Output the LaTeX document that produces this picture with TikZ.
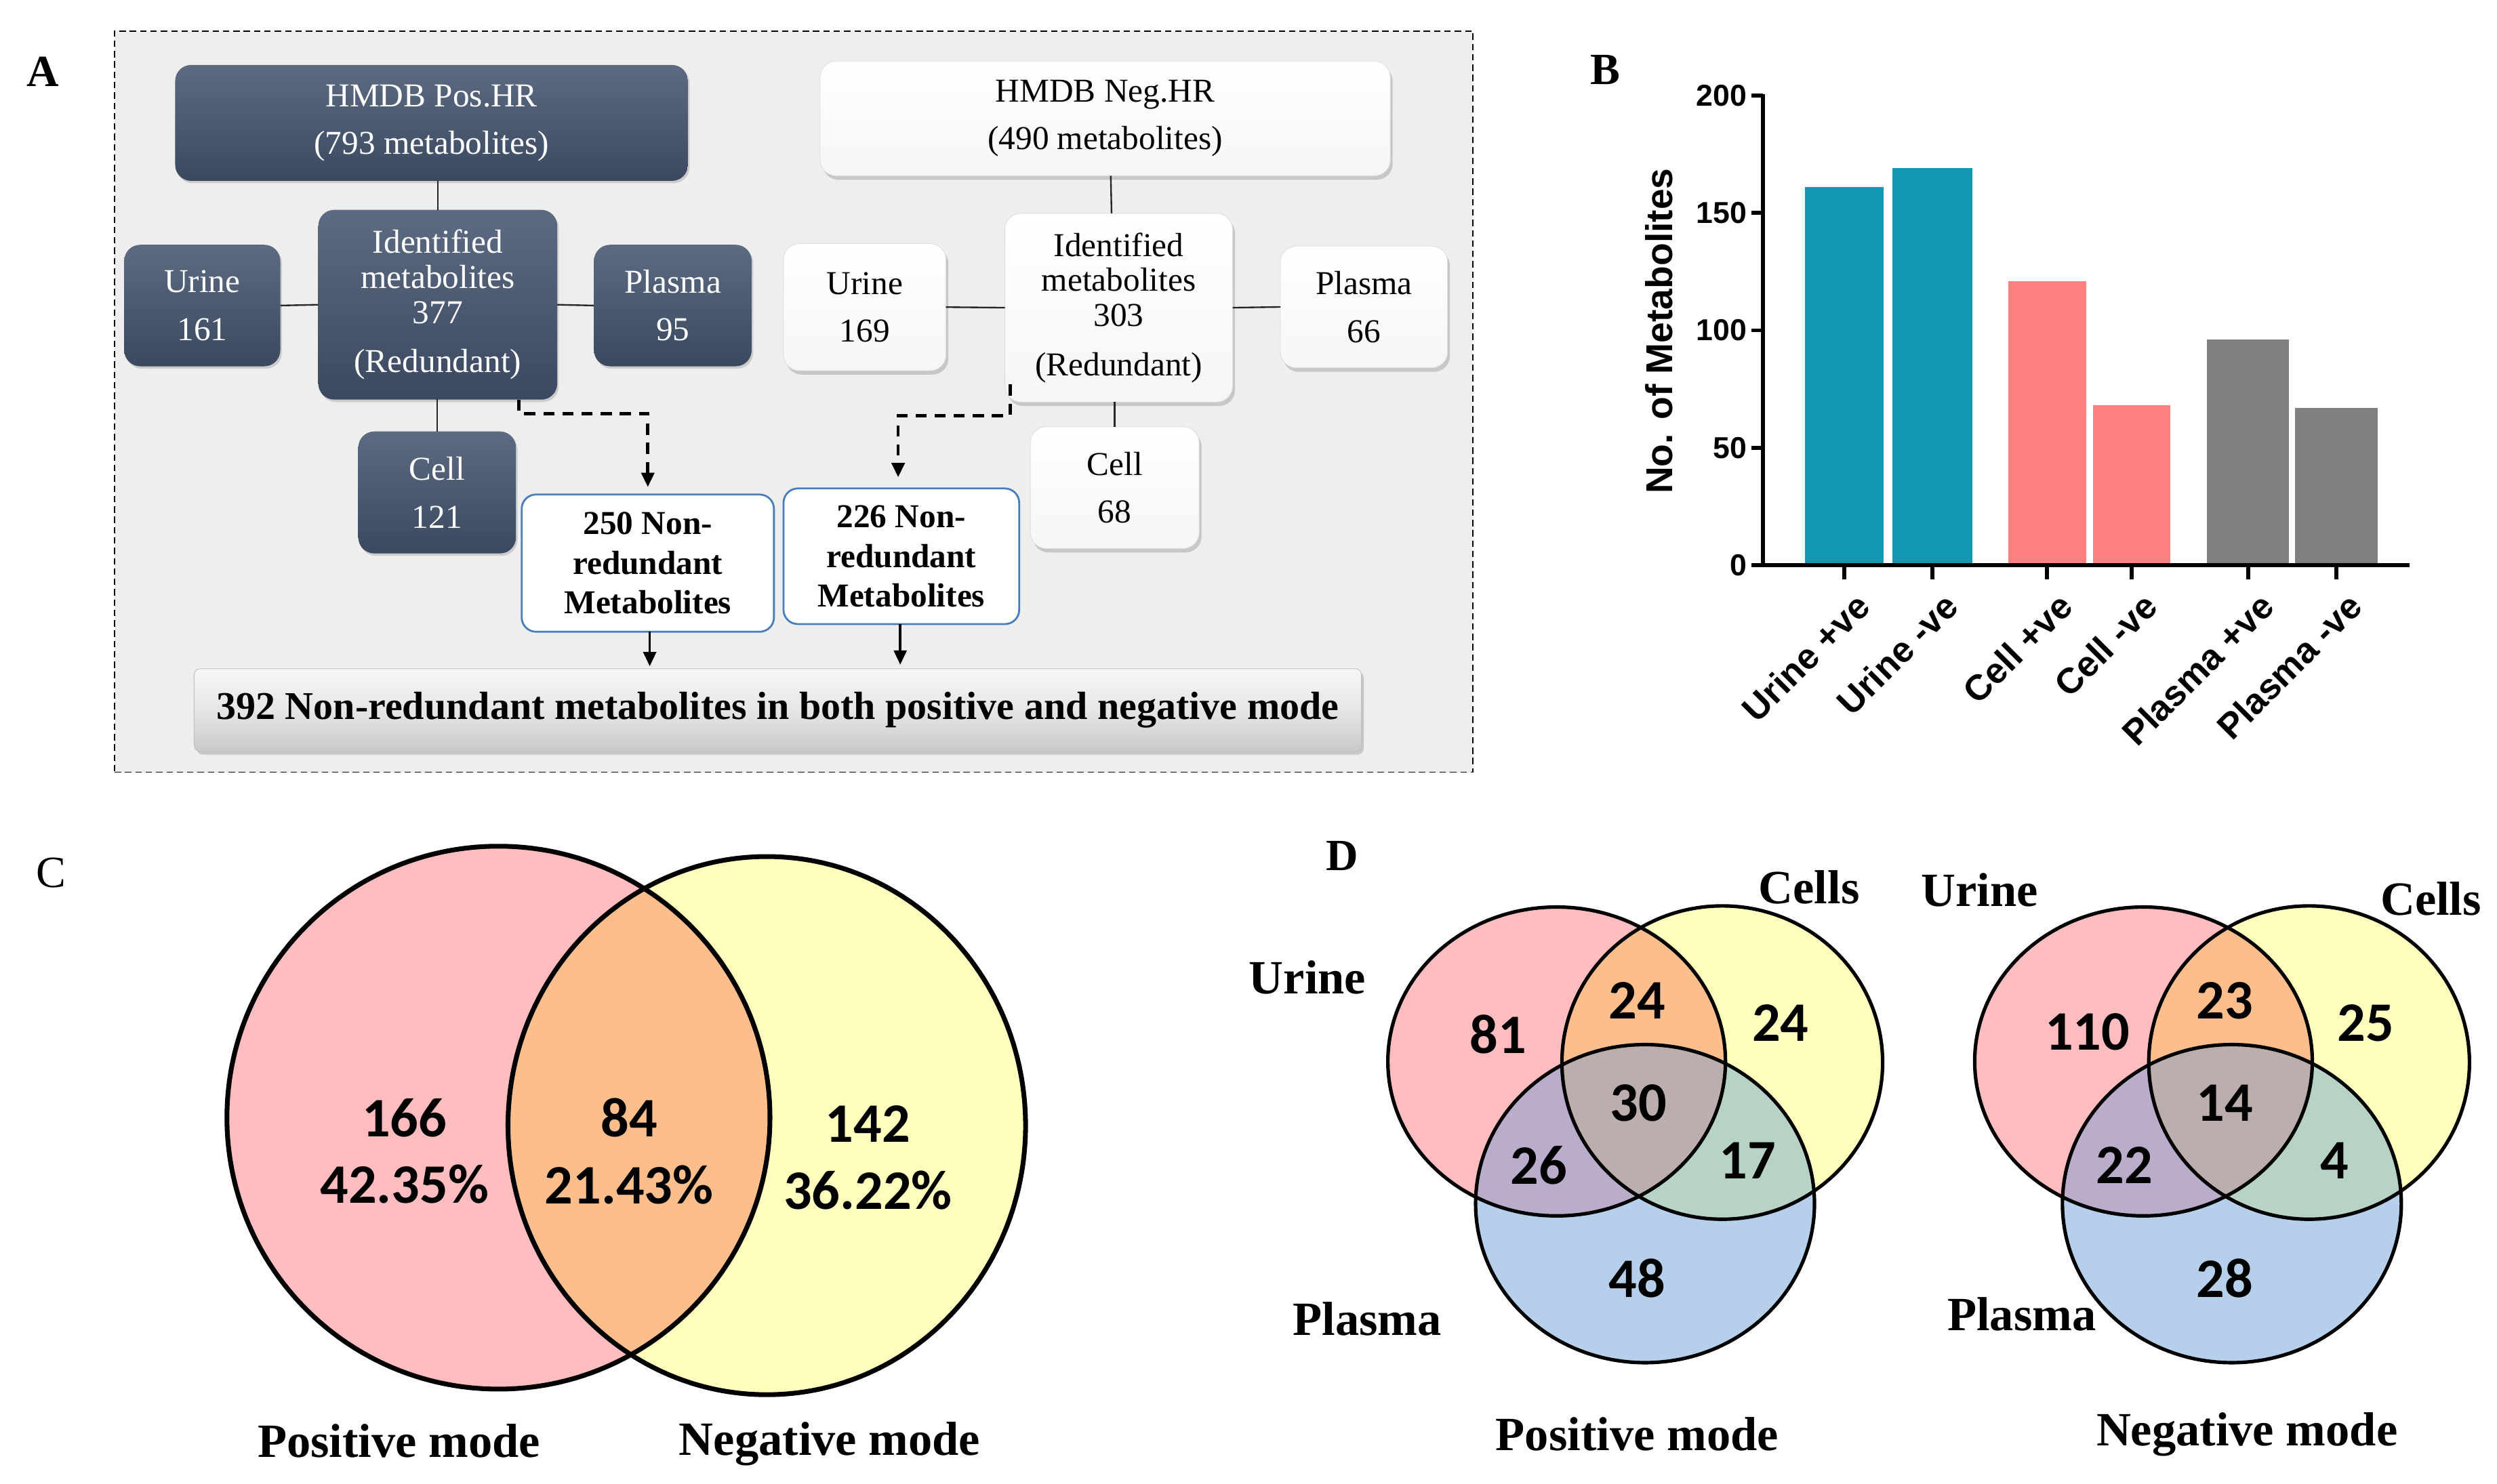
\documentclass[tikz,border=0pt]{standalone}
\usepackage{fontspec}
\setmainfont{Liberation Serif}
\newfontfamily\arialf{Liberation Sans}
\newfontfamily\calf{Carlito}
\usetikzlibrary{shadows,arrows.meta,calc}
\definecolor{dtop}{RGB}{92,106,130}
\definecolor{dbot}{RGB}{58,72,96}
\definecolor{abg}{RGB}{238,238,238}
\definecolor{nrblue}{RGB}{74,126,187}
\definecolor{barteal}{RGB}{18,152,178}
\definecolor{barsalmon}{RGB}{255,128,128}
\definecolor{bargray}{RGB}{128,128,128}
\definecolor{vpink}{RGB}{255,189,192}
\definecolor{vyellow}{RGB}{255,255,190}
\definecolor{vorange}{RGB}{253,190,141}
\definecolor{vblue}{RGB}{182,208,235}
\definecolor{vpurple}{RGB}{186,172,203}
\definecolor{vgreen}{RGB}{183,211,197}
\definecolor{vgray}{RGB}{189,174,174}
\begin{document}
\begin{tikzpicture}[x=1pt,y=-1pt,
  every node/.style={inner sep=0pt,outer sep=0pt},
  panlab/.style={font=\fontsize{28}{28}\selectfont\bfseries},
  panlabr/.style={font=\fontsize{28}{28}\selectfont},
  darkbox/.style={rounded corners=10pt,top color=dtop,bottom color=dbot,draw=none,text=white,
    align=center,font=\fontsize{21}{30}\selectfont,
    drop shadow={shadow xshift=1pt,shadow yshift=-1.5pt,opacity=.3}},
  whitebox/.style={rounded corners=10pt,top color=white,bottom color=gray!7,draw=gray!25,line width=.4pt,text=black,
    align=center,font=\fontsize{21}{30}\selectfont,
    drop shadow={shadow xshift=1.5pt,shadow yshift=-2.5pt,opacity=.35}},
  nrbox/.style={rounded corners=9pt,fill=white,draw=nrblue,line width=1.2pt,align=center,
    font=\fontsize{21}{25}\selectfont\bfseries},
  conn/.style={line width=1pt,black!85},
  dashconn/.style={line width=2pt,dash pattern=on 7pt off 5pt,-{Triangle[length=9pt,width=8pt]}},
  solarrow/.style={line width=1.6pt,-{Triangle[length=9pt,width=8pt]}},
  ytl/.style={font=\fontsize{19}{19}\selectfont\arialf\bfseries,anchor=east},
  xtl/.style={font=\fontsize{22.5}{22.5}\selectfont\arialf\bfseries,anchor=north east,rotate=45},
  vnum/.style={font=\fontsize{35}{42}\selectfont\calf\bfseries,align=center},
  vlab/.style={font=\fontsize{30}{30}\selectfont\bfseries},
  vline/.style={line width=2.2pt,black}]
\useasboundingbox (0,0) rectangle (1568,932);

% ================= Panel A =================
\node[panlab] (labA) at (27,45) {A};
\node[draw,fill=abg,line width=.8pt,dash pattern=on 4pt off 2.5pt,minimum width=853pt,minimum height=465.5pt] (frameA) at (498.5,252.25) {};

\node[darkbox,minimum width=322pt,minimum height=72.8pt] (pos) at (271,77.2) {HMDB Pos.HR\\(793 metabolites)};
\node[darkbox,minimum width=98pt,minimum height=76.3pt] (u1) at (127,191.9) {Urine\\161};
\node[darkbox,minimum width=150pt,minimum height=119.2pt,font=\fontsize{21}{22}\selectfont] (id1) at (274.9,191.4) {Identified\\metabolites\\377\\[9pt](Redundant)};
\node[darkbox,minimum width=99pt,minimum height=76.3pt] (p1) at (422.5,191.9) {Plasma\\95};
\node[darkbox,minimum width=99pt,minimum height=76.6pt] (c1) at (274.5,309.3) {Cell\\121};

\node[whitebox,minimum width=358pt,minimum height=72pt] (neg) at (694,74.4) {HMDB Neg.HR\\(490 metabolites)};
\node[whitebox,minimum width=102pt,minimum height=79.8pt] (u2) at (543,192.9) {Urine\\169};
\node[whitebox,minimum width=143pt,minimum height=118.5pt,font=\fontsize{21}{22}\selectfont] (id2) at (702.5,193.25) {Identified\\metabolites\\303\\[9pt](Redundant)};
\node[whitebox,minimum width=105pt,minimum height=76.4pt] (p2) at (856.5,192.8) {Plasma\\66};
\node[whitebox,minimum width=106pt,minimum height=76.5pt] (c2) at (700,306.25) {Cell\\68};

\node[nrbox,minimum width=158.4pt,minimum height=86.2pt] (nr1) at (406.8,353.7) {250 Non-\\redundant\\Metabolites};
\node[nrbox,minimum width=148pt,minimum height=85.2pt] (nr2) at (566,349.4) {226 Non-\\redundant\\Metabolites};

\node[rounded corners=4pt,top color=gray!6,bottom color=gray!42,middle color=gray!20,draw=gray!50,line width=.4pt,
  drop shadow={shadow xshift=1.5pt,shadow yshift=-2pt,opacity=.35},
  minimum width=733pt,minimum height=52pt,font=\fontsize{24.7}{24.7}\selectfont\bfseries] (all) at (488.4,446)
  {392 Non-redundant metabolites in both positive and negative mode};

% connectors A
\draw[conn] (id1.north |- pos.south) -- (id1.north);
\draw[conn] (u1.east) -- (id1.west);
\draw[conn] (id1.east) -- (p1.west);
\draw[conn] (id1.south) -- (c1.north |- id1.south) -- (c1.north);
\draw[conn] ([xshift=3.5pt]neg.south) -- ([xshift=-4.5pt]id2.north);
\draw[conn] (u2.east) -- (id2.west);
\draw[conn] (id2.east) -- (p2.west);
\draw[conn] (c2.north |- id2.south) -- (c2.north);
\draw[dashconn] ([xshift=-24pt]id1.south east) -- ++(0,8.7) -| ([yshift=4.7pt]nr1.north);
\draw[dashconn] ([xshift=3.3pt,yshift=11pt]id2.south west) -- ++(0,19.5) -| ([xshift=-2pt,yshift=7pt]nr2.north);
\draw[solarrow] ([xshift=1.2pt]nr1.south) -- ([xshift=1.2pt,yshift=1.5pt]nr1.south |- all.north);
\draw[solarrow] ([xshift=-0.7pt]nr2.south) -- ([xshift=-0.7pt,yshift=2.5pt]nr2.south |- all.north);

% ================= Panel B =================
\node[panlab] (labB) at (1008,44) {B};
\fill[barteal] (1133.6,355) rectangle (1182.6,{355-1.475*161});
\fill[barteal] (1188.5,355) rectangle (1238.5,{355-1.475*169});
\fill[barsalmon] (1260.9,355) rectangle (1309.9,{355-1.475*121});
\fill[barsalmon] (1314.4,355) rectangle (1363.0,{355-1.475*68});
\fill[bargray] (1386.0,355) rectangle (1437.4,{355-1.475*96});
\fill[bargray] (1441.3,355) rectangle (1493.0,{355-1.475*67});
\draw[line width=2.5pt] (1107,59) -- (1107,355) -- (1513,355);
\foreach \v in {0,50,100,150,200}{
  \draw[line width=2.5pt] (1100,{355-1.475*\v}) -- (1107,{355-1.475*\v});
  \node[ytl] (yt\v) at (1097,{355-1.475*\v}) {\v};
}
\foreach \cx/\nm/\lab in {1158.1/a/Urine +ve,1213.5/b/Urine -ve,1285.4/c/Cell +ve,1338.7/d/Cell -ve,1411.7/e/Plasma +ve,1467.2/f/Plasma -ve}{
  \draw[line width=2.5pt] (\cx,355) -- (\cx,364);
  \node[xtl] (xt\nm) at (\cx+6,371) {\lab};
}
\node[font=\fontsize{23.5}{23.5}\selectfont\arialf\bfseries,rotate=90] (ylab) at (1042,208) {No. of Metabolites};

% ================= Panel C =================
\node[panlabr] (labC) at (32,548) {C};
\fill[vpink] (313,702) circle[radius=170.5];
\fill[vyellow] (481.5,707) ellipse[x radius=162.5,y radius=169];
\begin{scope}
  \clip (313,702) circle[radius=170.5];
  \fill[vorange] (481.5,707) ellipse[x radius=162.5,y radius=169];
\end{scope}
\draw[line width=3pt] (313,702) circle[radius=170.5];
\draw[line width=3pt] (481.5,707) ellipse[x radius=162.5,y radius=169];
\node[vnum] (cpos) at (254,723) {166\\42.35\%};
\node[vnum] (cboth) at (395,723) {84\\21.43\%};
\node[vnum] (cneg) at (545,727) {142\\36.22\%};
\node[vlab] (cposl) at (250.5,905) {Positive mode};
\node[vlab] (cnegl) at (521,907) {Negative mode};

% ================= Panel D =================
\node[panlab] (labD) at (843,537.6) {D};
\foreach \dx in {0,368.5}{
\begin{scope}[xshift=\dx pt]
  \fill[vpink] (977.5,666.7) ellipse[x radius=106,y radius=97];
  \fill[vyellow] (1081.5,667.4) ellipse[x radius=100.7,y radius=98.4];
  \fill[vblue] (1033,756) ellipse[x radius=106.4,y radius=99.9];
  \begin{scope}
    \clip (977.5,666.7) ellipse[x radius=106,y radius=97];
    \fill[vorange] (1081.5,667.4) ellipse[x radius=100.7,y radius=98.4];
    \fill[vpurple] (1033,756) ellipse[x radius=106.4,y radius=99.9];
    \clip (1081.5,667.4) ellipse[x radius=100.7,y radius=98.4];
    \fill[vgray] (1033,756) ellipse[x radius=106.4,y radius=99.9];
  \end{scope}
  \begin{scope}
    \clip (1081.5,667.4) ellipse[x radius=100.7,y radius=98.4];
    \clip (1033,756) ellipse[x radius=106.4,y radius=99.9];
    \fill[vgreen] (1081.5,667.4) ellipse[x radius=100.7,y radius=98.4];
    \clip (977.5,666.7) ellipse[x radius=106,y radius=97];
    \fill[vgray] (1033,756) ellipse[x radius=106.4,y radius=99.9];
  \end{scope}
  \draw[vline] (977.5,666.7) ellipse[x radius=106,y radius=97];
  \draw[vline] (1081.5,667.4) ellipse[x radius=100.7,y radius=98.4];
  \draw[vline] (1033,756) ellipse[x radius=106.4,y radius=99.9];
\end{scope}
}
% left Venn numbers
\node[vnum] (d81) at (940.7,649.7) {81};
\node[vnum] (d24a) at (1028,628.4) {24};
\node[vnum] (d24b) at (1118,642.6) {24};
\node[vnum] (d30) at (1029,693) {30};
\node[vnum] (d26) at (966.4,732) {26};
\node[vnum] (d17) at (1097.5,729) {17};
\node[vnum] (d48) at (1028,803) {48};
\node[vlab] (dul) at (821,614) {Urine};
\node[vlab] (dcl) at (1136,557.5) {Cells};
\node[vlab] (dpl) at (858.5,828.4) {Plasma};
\node[vlab] (dposl) at (1028,900.8) {Positive mode};
% right Venn numbers
\node[vnum] (e110) at (1310.7,648.3) {110};
\node[vnum] (e23) at (1397,628.4) {23};
\node[vnum] (e25) at (1485.5,642.6) {25};
\node[vnum] (e14) at (1397,693) {14};
\node[vnum] (e22) at (1333.9,732) {22};
\node[vnum] (e4) at (1466,729) {4};
\node[vnum] (e28) at (1397,803) {28};
\node[vlab] (eul) at (1243,559) {Urine};
\node[vlab] (ecl) at (1526.5,564.6) {Cells};
\node[vlab] (epl) at (1269.6,825.6) {Plasma};
\node[vlab] (enegl) at (1411,900.8) {Negative mode};
\end{tikzpicture}
\end{document}
